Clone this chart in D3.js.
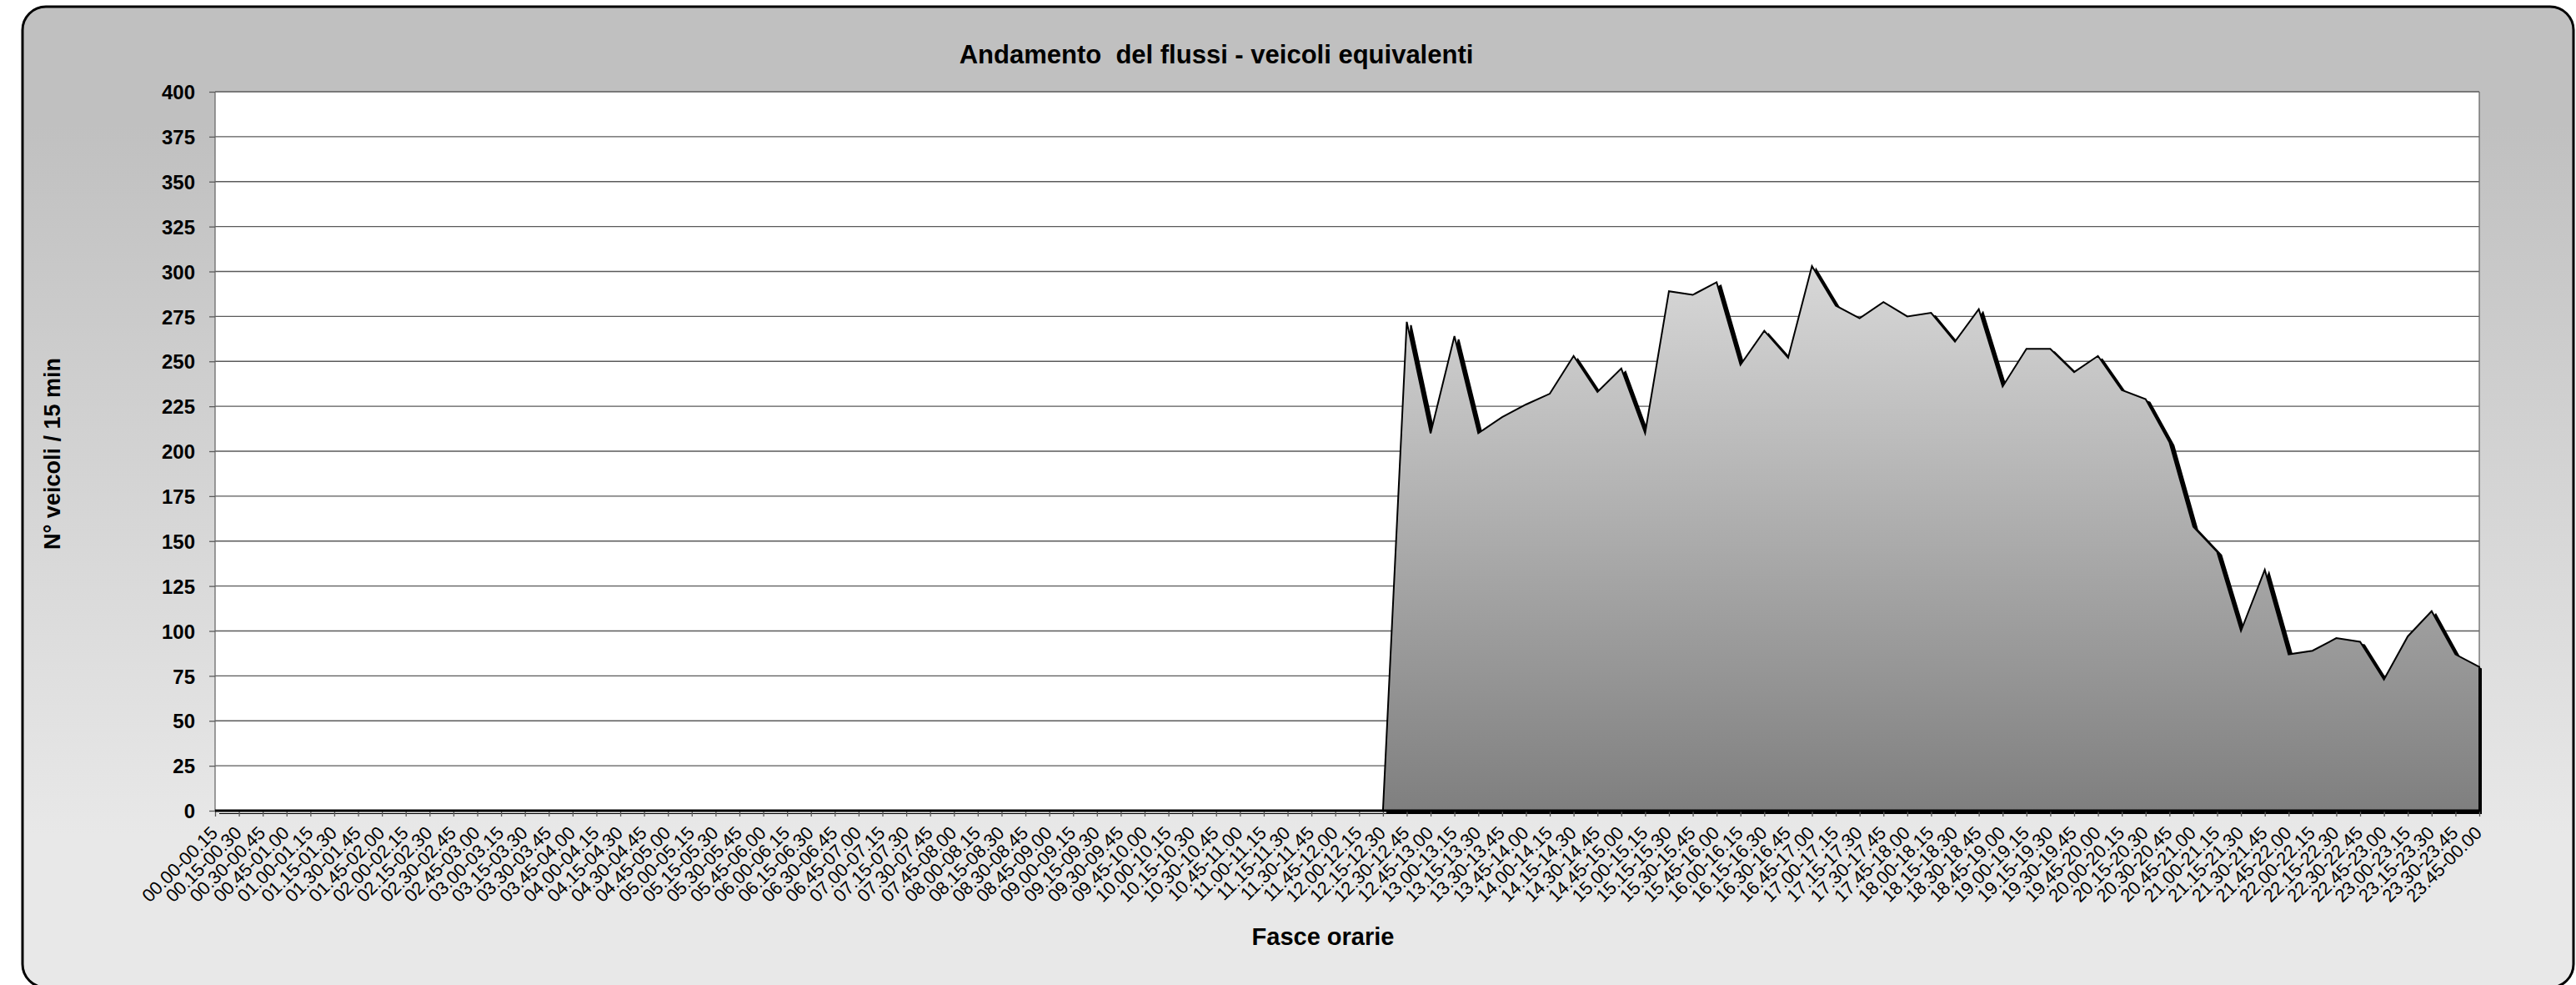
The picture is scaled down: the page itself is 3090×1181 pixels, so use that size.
<!DOCTYPE html>
<html>
<head>
<meta charset="utf-8">
<script src="https://cdn.jsdelivr.net/npm/d3@7"></script>
<style>
  body { margin: 0; background: #fff; }
  text { font-family: "Liberation Sans", Arial, sans-serif; fill: #000; }
</style>
</head>
<body>
<svg id="chart" width="3090" height="1181"></svg>
<script>
// fasce orarie (categorie)
var fasce = [
  '00.00-00.15', '00.15-00.30', '00.30-00.45', '00.45-01.00', '01.00-01.15', '01.15-01.30', '01.30-01.45', '01.45-02.00',
  '02.00-02.15', '02.15-02.30', '02.30-02.45', '02.45-03.00', '03.00-03.15', '03.15-03.30', '03.30-03.45', '03.45-04.00',
  '04.00-04.15', '04.15-04.30', '04.30-04.45', '04.45-05.00', '05.00-05.15', '05.15-05.30', '05.30-05.45', '05.45-06.00',
  '06.00-06.15', '06.15-06.30', '06.30-06.45', '06.45-07.00', '07.00-07.15', '07.15-07.30', '07.30-07.45', '07.45-08.00',
  '08.00-08.15', '08.15-08.30', '08.30-08.45', '08.45-09.00', '09.00-09.15', '09.15-09.30', '09.30-09.45', '09.45-10.00',
  '10.00-10.15', '10.15-10.30', '10.30-10.45', '10.45-11.00', '11.00-11.15', '11.15-11.30', '11.30-11.45', '11.45-12.00',
  '12.00-12.15', '12.15-12.30', '12.30-12.45', '12.45-13.00', '13.00-13.15', '13.15-13.30', '13.30-13.45', '13.45-14.00',
  '14.00-14.15', '14.15-14.30', '14.30-14.45', '14.45-15.00', '15.00-15.15', '15.15-15.30', '15.30-15.45', '15.45-16.00',
  '16.00-16.15', '16.15-16.30', '16.30-16.45', '16.45-17.00', '17.00-17.15', '17.15-17.30', '17.30-17.45', '17.45-18.00',
  '18.00-18.15', '18.15-18.30', '18.30-18.45', '18.45-19.00', '19.00-19.15', '19.15-19.30', '19.30-19.45', '19.45-20.00',
  '20.00-20.15', '20.15-20.30', '20.30-20.45', '20.45-21.00', '21.00-21.15', '21.15-21.30', '21.30-21.45', '21.45-22.00',
  '22.00-22.15', '22.15-22.30', '22.30-22.45', '22.45-23.00', '23.00-23.15', '23.15-23.30', '23.30-23.45', '23.45-00.00'
];

// veicoli equivalenti per fascia
var veicoli = [
  0, 0, 0, 0, 0, 0, 0, 0,
  0, 0, 0, 0, 0, 0, 0, 0,
  0, 0, 0, 0, 0, 0, 0, 0,
  0, 0, 0, 0, 0, 0, 0, 0,
  0, 0, 0, 0, 0, 0, 0, 0,
  0, 0, 0, 0, 0, 0, 0, 0,
  0, 0, 272, 210, 264, 210, 219, 226,
  232, 253, 233, 246, 210, 289, 287, 294,
  248, 267, 252, 303, 281, 274, 283, 275,
  277, 261, 279, 236, 257, 257, 244, 253,
  234, 229, 205, 158, 144, 100, 134, 87,
  89, 96, 94, 73, 97, 111, 87, 80
];

var yTicks = [0, 25, 50, 75, 100, 125, 150, 175, 200, 225, 250, 275, 300, 325, 350, 375, 400];

var titolo = 'Andamento\u00a0 del flussi - veicoli equivalenti';
var titoloY = 'N° veicoli / 15 min';
var titoloX = 'Fasce orarie';

var svg = d3.select('#chart');
var plot = { left: 258, right: 2974, top: 110, bottom: 972 };

var defs = svg.append('defs');
var bg = defs.append('linearGradient')
  .attr('id', 'bgGrad')
  .attr('gradientUnits', 'userSpaceOnUse')
  .attr('x1', 0).attr('y1', 150).attr('x2', 0).attr('y2', 1000);
bg.append('stop').attr('offset', '0%').attr('stop-color', '#c0c0c0');
bg.append('stop').attr('offset', '100%').attr('stop-color', '#e8e8e8');

var areaGrad = defs.append('linearGradient')
  .attr('id', 'areaGrad')
  .attr('x1', 0).attr('y1', 0).attr('x2', 0).attr('y2', 1);
areaGrad.append('stop').attr('offset', '0%').attr('stop-color', '#d8d8d8');
areaGrad.append('stop').attr('offset', '100%').attr('stop-color', '#7f7f7f');

defs.append('clipPath').attr('id', 'plotClip')
  .append('rect')
  .attr('x', plot.left).attr('y', plot.top)
  .attr('width', plot.right - plot.left + 3)
  .attr('height', plot.bottom - plot.top + 4);

// chart area
svg.append('rect')
  .attr('x', 27).attr('y', 8)
  .attr('width', 3060).attr('height', 1176)
  .attr('rx', 28).attr('ry', 28)
  .style('fill', 'url(#bgGrad)')
  .style('stroke', '#000')
  .style('stroke-width', 3);

// plot area
svg.append('rect')
  .attr('x', plot.left).attr('y', plot.top)
  .attr('width', plot.right - plot.left)
  .attr('height', plot.bottom - plot.top)
  .style('fill', '#fff');

var x = d3.scalePoint().domain(fasce).range([plot.left, plot.right]).padding(0);
var y = d3.scaleLinear().domain([0, 400]).range([plot.bottom, plot.top]);

// gridlines
svg.append('g').selectAll('line')
  .data(yTicks.filter(function (d) { return d > 0; }))
  .enter().append('line')
  .attr('x1', plot.left).attr('x2', plot.right)
  .attr('y1', function (d) { return y(d); })
  .attr('y2', function (d) { return y(d); })
  .style('stroke', '#5a5a5a')
  .style('stroke-width', 1.3);

// plot borders
svg.append('line')
  .attr('x1', plot.left).attr('x2', plot.left)
  .attr('y1', plot.top).attr('y2', plot.bottom)
  .style('stroke', '#6a6a6a').style('stroke-width', 1.3);
svg.append('line')
  .attr('x1', plot.right).attr('x2', plot.right)
  .attr('y1', plot.top).attr('y2', plot.bottom)
  .style('stroke', '#6a6a6a').style('stroke-width', 1.3);

var area = d3.area()
  .x(function (d, i) { return x(fasce[i]); })
  .y0(plot.bottom)
  .y1(function (d) { return y(d); });

var series = svg.append('g').attr('clip-path', 'url(#plotClip)');

// shadow
series.append('path')
  .datum(veicoli)
  .attr('d', area)
  .attr('transform', 'translate(5,4)')
  .style('fill', '#000')
  .style('stroke', '#000')
  .style('stroke-width', 2);

series.append('path')
  .datum(veicoli)
  .attr('d', area)
  .style('fill', 'url(#areaGrad)')
  .style('stroke', '#000')
  .style('stroke-width', 2)
  .style('stroke-linejoin', 'miter');

// y axis
var yAxis = svg.append('g')
  .attr('transform', 'translate(' + plot.left + ',0)')
  .call(d3.axisLeft(y).tickValues(yTicks).tickSize(7).tickPadding(17));
yAxis.select('.domain').remove();
yAxis.selectAll('line').style('stroke', '#5a5a5a').style('stroke-width', 1.3);
yAxis.selectAll('text')
  .style('font-size', '24px')
  .style('font-weight', 'bold')
  .attr('dy', '0.36em');

// x axis
var xAxis = svg.append('g')
  .attr('transform', 'translate(0,' + plot.bottom + ')')
  .call(d3.axisBottom(x).tickSize(7));
xAxis.select('.domain').remove();
xAxis.selectAll('line').style('stroke', '#5a5a5a').style('stroke-width', 1.3);
xAxis.selectAll('text')
  .attr('x', 0).attr('y', 0).attr('dy', 0)
  .attr('text-anchor', 'end')
  .attr('transform', 'translate(4,28) rotate(-45)')
  .style('font-size', '22px');

svg.append('line')
  .attr('x1', plot.left).attr('x2', plot.right + 1)
  .attr('y1', plot.bottom).attr('y2', plot.bottom)
  .style('stroke', '#000')
  .style('stroke-width', 3);

// titles
svg.append('text')
  .attr('x', 1459).attr('y', 76)
  .attr('text-anchor', 'middle')
  .style('font-size', '31px')
  .style('font-weight', 'bold')
  .text(titolo);

svg.append('text')
  .attr('transform', 'translate(72,544) rotate(-90)')
  .attr('text-anchor', 'middle')
  .style('font-size', '27px')
  .style('font-weight', 'bold')
  .text(titoloY);

svg.append('text')
  .attr('x', 1587).attr('y', 1133)
  .attr('text-anchor', 'middle')
  .style('font-size', '29px')
  .style('font-weight', 'bold')
  .text(titoloX);
</script>
</body>
</html>
